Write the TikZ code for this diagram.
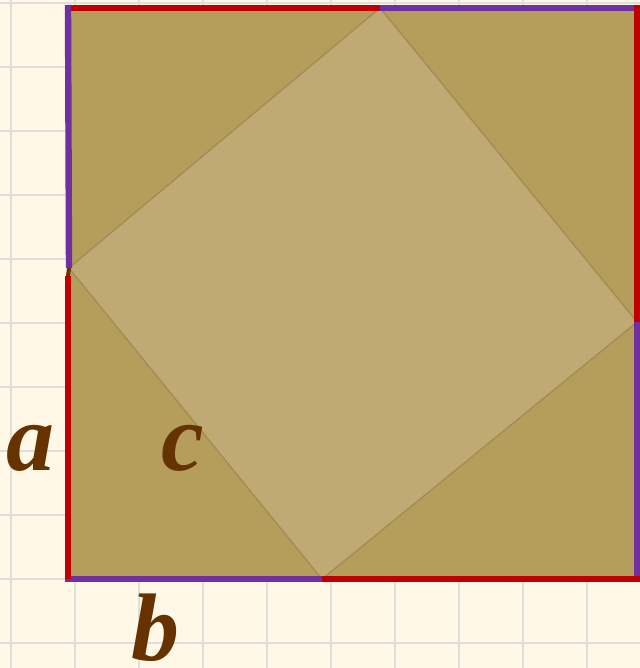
\documentclass[tikz,border=0pt]{standalone}
\usepackage{fontspec}
\setmainfont{Liberation Serif}
\usepackage{xcolor}
\usepackage{tikz}
\usetikzlibrary{positioning, calc}

\definecolor{paper}{HTML}{FFF8E6}
\definecolor{gridline}{HTML}{E0DEDC}
\definecolor{tri}{HTML}{B59D5C}
\definecolor{sq}{HTML}{BEAA72}
\definecolor{edgered}{HTML}{C00000}
\definecolor{edgepurple}{HTML}{7030A0}
\definecolor{labelbrown}{HTML}{663300}

\begin{document}
\begin{tikzpicture}[x=0.5pt, y=-0.5pt, every node/.style={font=\fontsize{48}{48}\selectfont\bfseries\itshape, text=labelbrown, inner sep=0pt}]
      \tikzstyle{triangle}=[fill=tri, draw=tri!86!black, line width=0.6pt, line join=round]
      \tikzstyle{inner}=[fill=sq, draw=tri!90!black, line width=0.6pt, line join=round]
      \tikzstyle{side a}=[edgered, line width=3.2pt]
      \tikzstyle{side b}=[edgepurple, line width=3.2pt]
      \fill[paper] (0,0) rectangle (640,668);
      \useasboundingbox (0,0) rectangle (640,668);
      % grid paper
      \foreach \x in {11,75,...,651} \draw[gridline, line width=1pt] (\x,0) -- (\x,668);
      \foreach \y in {3,67,...,643} \draw[gridline, line width=1pt] (0,\y) -- (640,\y);
      % outer square and points on its sides
      \coordinate (tl) at (68,8);
      \coordinate (tr) at (637,8);
      \coordinate (br) at (637,579);
      \coordinate (bl) at (68,579);
      \coordinate (pt) at (380,8);
      \coordinate (pr) at (637,322);
      \coordinate (pb) at (322,579);
      \coordinate (pl) at (69,268);
      \coordinate (pl2) at (68,276);
      \filldraw[triangle] (tl) -- (pt) -- (pl) -- cycle;
      \filldraw[triangle] (tr) -- (pr) -- (pt) -- cycle;
      \filldraw[triangle] (br) -- (pb) -- (pr) -- cycle;
      \filldraw[triangle] (bl) -- (pl) -- (pb) -- cycle;
      \filldraw[inner] (pt) -- (pr) -- (pb) -- (pl) -- cycle;
      % coloured sides
      \draw[labelbrown, line width=2pt] (pl) -- (pl2);
      \draw[side a] (pt) -- ($(tl)+(3,0)$);
      \draw[side b] (pt) -- (tr);
      \draw[side a] ($(tr)+(0,-3)$) -- (pr);
      \draw[side b] (pr) -- ($(br)+(0,3)$);
      \draw[side a] (pb) -- ($(br)+(3,0)$);
      \draw[side b] ($(bl)+(-3,0)$) -- (pb);
      \draw[side b] ($(tl)+(0,-3)$) -- (pl);
      \draw[side a] (pl2) -- (bl);
      % labels
      \node[anchor=base] (a) at (30,470) {a};
      \node[anchor=base] (c) at (183,470) {c};
      \node[anchor=base] (b) at (155,660) {b};
    \end{tikzpicture}
\end{document}
